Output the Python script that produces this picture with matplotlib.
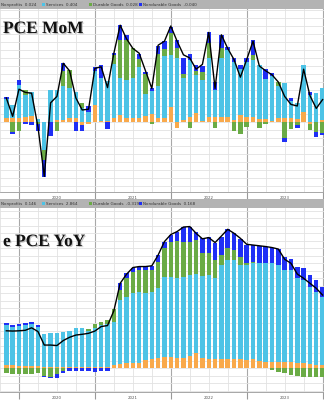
import numpy as np
import matplotlib
matplotlib.use("Agg")
import matplotlib.pyplot as plt
import matplotlib.patheffects as pe
from matplotlib.patches import Rectangle

# months from Nov 2019 (index -2) to Jan 2024 (index 48), 0 = Jan 2020
x = np.arange(-2, 49)
years = ["2020", "2021", "2022", "2023"]

# ---- Core PCE MoM contributions (%)
mom_nonprofits = [0.023, 0.023, 0.023, 0.03, 0.035, 0.0, 0.0, 0.0, 0.01, 0.012, 0.025, 0.025, -0.02,
                  -0.015, 0.106, 0.005, 0.005, 0.025, 0.044, 0.023, 0.027, 0.023, 0.037, 0.048, 0.027,
                  0.023, 0.096, -0.04, 0.012, 0.033, 0.054, 0.006, 0.033, 0.033, 0.033, 0.033, 0.012,
                  0.044, 0.033, 0.033, 0.019, 0.02, 0.005, 0.023, 0.023, 0.023, 0.017, 0.065, -0.015,
                  0.0, 0.01]
mom_services = [0.12, 0.085, 0.21, 0.14, 0.155, 0.02, -0.175, 0.2, 0.19, 0.21, 0.19, 0.165, 0.09,
                0.065, 0.21, 0.27, 0.25, 0.34, 0.23, 0.24, 0.246, 0.32, 0.135, 0.146, 0.2,
                0.39, 0.32, 0.4, 0.26, 0.354, 0.24, 0.256, 0.365, 0.167, 0.365, 0.417, 0.365,
                0.29, 0.34, 0.354, 0.34, 0.25, 0.28, 0.2, 0.22, 0.11, 0.1, 0.29, 0.17,
                0.18, 0.2]
mom_durable = [0.0, -0.06, -0.055, 0.03, 0.0, -0.015, -0.063, 0.0, -0.055, 0.094, 0.11, 0.0, 0.03,
               0.0, 0.0, 0.0, 0.0, 0.055, 0.24, 0.25, 0.19, 0.05, 0.125, -0.01, 0.2,
               0.046, 0.14, 0.06, 0.03, -0.04, 0.025, 0.05, 0.094, -0.04, 0.0625, 0.0, -0.056,
               -0.077, -0.03, 0.03, -0.035, -0.015, 0.0, 0.03, -0.1, -0.045, -0.02, 0.0, -0.035,
               -0.065, -0.07]
mom_nondurable = [0.015, -0.015, 0.03, -0.015, -0.02, -0.04, -0.104, -0.09, 0.0, 0.052, 0.0, -0.055, -0.035,
                  0.035, 0.03, 0.08, -0.045, 0.01, 0.09, 0.03, 0.0, 0.03, 0.017, 0.017, 0.05,
                  0.05, 0.04, 0.05, 0.1, 0.04, 0.04, 0.04, 0.073, 0.05, 0.083, 0.02, 0.02,
                  0.02, 0.03, 0.094, 0.0, 0.06, 0.02, 0.0, -0.025, 0.02, -0.015, 0.0, 0.02,
                  -0.027, -0.01]
mom_total = [0.15, 0.035, 0.205, 0.185, 0.18, -0.03, -0.34, 0.12, 0.16, 0.367, 0.32, 0.15, 0.075,
             0.08, 0.335, 0.345, 0.215, 0.43, 0.605, 0.52, 0.46, 0.43, 0.32, 0.21, 0.48,
             0.505, 0.6, 0.505, 0.42, 0.40, 0.33, 0.36, 0.56, 0.21, 0.545, 0.46, 0.39,
             0.28, 0.39, 0.505, 0.35, 0.32, 0.295, 0.25, 0.16, 0.11, 0.10, 0.33, 0.165,
             0.085, 0.14]

# ---- Core PCE YoY contributions (%)
yoy_nonprofits = [0.13, 0.13, 0.1, 0.1, 0.1, 0.1, 0.07, 0.07, 0.07, 0.07, 0.07, 0.07, 0.07,
                  0.07, 0.07, 0.07, 0.07, 0.13, 0.16, 0.2, 0.23, 0.23, 0.33, 0.37, 0.43,
                  0.47, 0.47, 0.43, 0.43, 0.5, 0.6, 0.43, 0.37, 0.36, 0.36, 0.36, 0.36,
                  0.36, 0.33, 0.36, 0.3, 0.27, 0.27, 0.27, 0.27, 0.24, 0.23, 0.2, 0.17,
                  0.13, 0.13]
yoy_services = [1.6, 1.53, 1.6, 1.65, 1.67, 1.57, 1.3, 1.33, 1.33, 1.4, 1.43, 1.53, 1.53,
                1.43, 1.53, 1.67, 1.7, 1.73, 2.57, 2.67, 2.77, 2.84, 2.67, 2.69, 2.77,
                3.2, 3.2, 3.2, 3.24, 3.23, 3.16, 3.27, 3.36, 3.24, 3.77, 3.97, 3.97,
                3.77, 3.8, 3.84, 3.9, 3.93, 3.93, 3.87, 3.67, 3.69, 3.37, 3.33, 3.09,
                2.93, 2.73]
yoy_durable = [-0.2, -0.22, -0.22, -0.22, -0.22, -0.2, -0.3, -0.33, -0.24, -0.1, 0.0, 0.0, 0.03,
               0.08, 0.16, 0.13, 0.17, 0.53, 0.4, 0.73, 0.87, 0.87, 0.93, 0.87, 1.07,
               1.13, 1.4, 1.47, 1.4, 1.33, 1.37, 0.9, 0.87, 0.73, 0.4, 0.47, 0.4,
               0.33, 0.07, 0.07, 0.0, 0.0, -0.05, -0.13, -0.2, -0.27, -0.3, -0.33, -0.33,
               -0.33, -0.33]
yoy_nondurable = [0.07, 0.07, 0.09, 0.07, 0.09, 0.05, -0.05, -0.05, -0.13, -0.08, -0.1, -0.1, -0.1,
                  -0.1, -0.13, -0.1, -0.1, 0.0, 0.27, 0.2, 0.16, 0.1, 0.13, 0.15, 0.27,
                  0.27, 0.27, 0.37, 0.6, 0.6, 0.33, 0.6, 0.67, 0.7, 0.73, 0.76, 0.67,
                  0.73, 0.73, 0.67, 0.7, 0.67, 0.63, 0.64, 0.53, 0.43, 0.47, 0.47, 0.47,
                  0.47, 0.4]
yoy_total = [1.5, 1.49, 1.5, 1.52, 1.62, 1.47, 0.93, 0.93, 0.91, 1.11, 1.24, 1.33, 1.36,
             1.4, 1.49, 1.67, 1.71, 2.3, 3.4, 3.76, 4.03, 4.07, 4.07, 4.1, 4.53,
             5.07, 5.35, 5.47, 5.65, 5.67, 5.4, 5.18, 5.23, 5.03, 5.29, 5.56, 5.4,
             5.2, 4.96, 4.93, 4.9, 4.87, 4.83, 4.77, 4.36, 4.2, 3.77, 3.6, 3.4,
             3.2, 2.93]

names = ["Nonprofits", "Services", "Durable Goods", "Nondurable Goods"]
colors = ["#f9a94b", "#4dc3e6", "#6aab45", "#1f2ff5"]
mom_last = ["0.024", "0.404", "0.028", "-0.040"]
yoy_last = ["0.146", "2.864", "-0.319", "0.168"]

W, H = 324, 400
fig = plt.figure(figsize=(W / 100, H / 100), dpi=100)


def stacked(ax, parts, total, ystep):
    pos = np.zeros(len(x))
    neg = np.zeros(len(x))
    for vals, c in zip(parts, colors):
        v = np.array(vals)
        p = np.where(v > 0, v, 0)
        q = np.where(v < 0, v, 0)
        ax.bar(x, p, bottom=pos, width=0.7, color=c, linewidth=0)
        ax.bar(x, q, bottom=neg, width=0.7, color=c, linewidth=0)
        pos += p
        neg += q
    ax.plot(x, total, color="black", lw=1.0)
    lo, hi = ax.get_ylim()
    ax.set_yticks(np.arange(-20, 40) * ystep)
    ax.set_ylim(lo, hi)
    ax.set_xlim(-12 / 6.47, (W - 12) / 6.47)
    ax.set_xticks([0, 12, 24, 36, 48])
    ax.set_xticks(np.arange(-3, 49, 3), minor=True)
    ax.set_xticklabels([])
    ax.tick_params(axis="y", length=0, labelleft=False)
    ax.tick_params(axis="x", which="major", length=5, color="#999999", width=0.8)
    ax.tick_params(axis="x", which="minor", length=0)
    ax.grid(axis="y", color="#e2e2e2", lw=0.6)
    ax.grid(axis="x", which="major", color="#a8a8a8", lw=0.8)
    ax.grid(axis="x", which="minor", color="#e2e2e2", lw=0.6)
    ax.set_axisbelow(True)
    for s in ["left", "right", "top"]:
        ax.spines[s].set_visible(False)
    ax.spines["bottom"].set_color("#999999")
    ax.spines["bottom"].set_linewidth(0.6)
    for i, yr in enumerate(years):
        ax.text(6 + 12 * i, -0.022, yr, transform=ax.get_xaxis_transform(),
                ha="center", va="top", fontsize=2.8, color="#555555")


def header(top_px, vals):
    fig.patches.append(Rectangle((0, 1 - (top_px + 9) / H), 1, 9 / H, transform=fig.transFigure,
                                 facecolor="#b3b3b3", edgecolor="none"))
    yc = 1 - (top_px + 4.7) / H
    xs = [1, 46, 93, 143]
    for i in range(4):
        if i > 0:
            fig.patches.append(Rectangle(((xs[i] - 4.5) / W, yc - 1.6 / H), 3 / W, 3.2 / H,
                                         transform=fig.transFigure, facecolor=colors[i],
                                         edgecolor="none"))
        fig.text(xs[i] / W, yc, names[i] + "  " + vals[i], fontsize=3.0, color="#333333",
                 va="center", ha="left")


ax1 = fig.add_axes([0, 1 - 192 / H, 1, (192 - 9) / H])
ax1.set_ylim(-70 / 160, 113 / 160)
stacked(ax1, [mom_nonprofits, mom_services, mom_durable, mom_nondurable], mom_total, 0.05)

ax2 = fig.add_axes([0, 1 - 392 / H, 1, (392 - 208) / H])
ax2.set_ylim(-23.7 / 25, 160.3 / 25)
stacked(ax2, [yoy_nonprofits, yoy_services, yoy_durable, yoy_nondurable], yoy_total, 0.3)

header(0, mom_last)
header(199, yoy_last)

shadow = [pe.withSimplePatchShadow(offset=(0.8, -0.8), shadow_rgbFace="#888888", alpha=0.5)]
fig.text(3 / W, 1 - 33 / H, "PCE MoM", fontsize=12.5, fontweight="bold", family="Liberation Serif",
         color="#111111", va="baseline", ha="left", path_effects=shadow)
fig.text(3 / W, 1 - 246 / H, "e PCE YoY", fontsize=12.5, fontweight="bold", family="Liberation Serif",
         color="#111111", va="baseline", ha="left", path_effects=shadow)

fig.savefig("out.png", dpi=100, facecolor="white")
